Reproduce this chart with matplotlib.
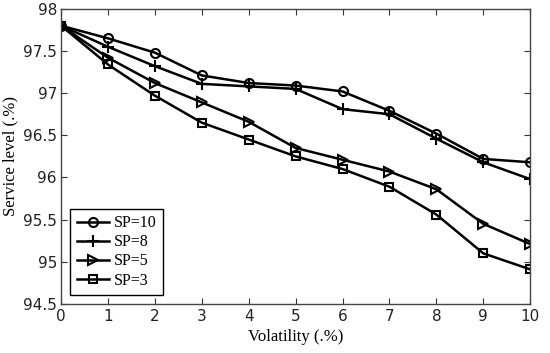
import matplotlib
matplotlib.use("Agg")
import matplotlib.pyplot as plt

# volatility levels
vol = [0, 1, 2, 3, 4, 5, 6, 7, 8, 9, 10]

sp10 = [97.8, 97.65, 97.48, 97.21, 97.12, 97.09, 97.02, 96.79, 96.52, 96.22, 96.18]
sp8 = [97.8, 97.55, 97.32, 97.11, 97.08, 97.05, 96.81, 96.75, 96.46, 96.18, 95.98]
sp5 = [97.8, 97.42, 97.12, 96.89, 96.66, 96.35, 96.21, 96.07, 95.86, 95.45, 95.21]
sp3 = [97.8, 97.34, 96.97, 96.65, 96.45, 96.25, 96.10, 95.89, 95.56, 95.10, 94.91]

labels = ["SP=10", "SP=8", "SP=5", "SP=3"]
markers = ["o", "+", ">", "s"]
sizes = [6.5, 8, 7, 5.5]

fig = plt.figure(figsize=(5.5, 3.53), dpi=100)
ax = fig.add_axes([0.111, 0.139, 0.853, 0.836])

for ys, lab, m, ms in zip([sp10, sp8, sp5, sp3], labels, markers, sizes):
    ax.plot(vol, ys, color="black", lw=1.8, marker=m, ms=ms,
            markerfacecolor="none", markeredgecolor="black", mew=1.5, label=lab)

ax.set_xlim(0, 10)
ax.set_ylim(94.5, 98)
ax.set_xticks(range(0, 11))
ax.set_yticks([94.5, 95, 95.5, 96, 96.5, 97, 97.5, 98])
ax.set_yticklabels(["94.5", "95", "95.5", "96", "96.5", "97", "97.5", "98"])
ax.tick_params(direction="in", top=True, right=True, length=4, labelsize=11,
               colors="#333333", labelcolor="#222222", pad=4)
ax.tick_params(axis="y", pad=3)
for s in ax.spines.values():
    s.set_color("#444444")
    s.set_linewidth(1.0)

ax.set_xlabel("Volatility (.%)", family="Liberation Serif", fontsize=12, labelpad=3)
ax.set_ylabel("Service level (.%)", family="Liberation Serif", fontsize=12, labelpad=3)

leg = ax.legend(loc="lower left", prop={"family": "Liberation Serif", "size": 11.5},
                fancybox=False, edgecolor="black", framealpha=1,
                handlelength=2.0, handletextpad=0.3, borderpad=0.4,
                labelspacing=0.2, borderaxespad=0,
                bbox_to_anchor=(0.02, 0.03))
leg.get_frame().set_linewidth(1.0)

fig.savefig("out.png", dpi=100)
